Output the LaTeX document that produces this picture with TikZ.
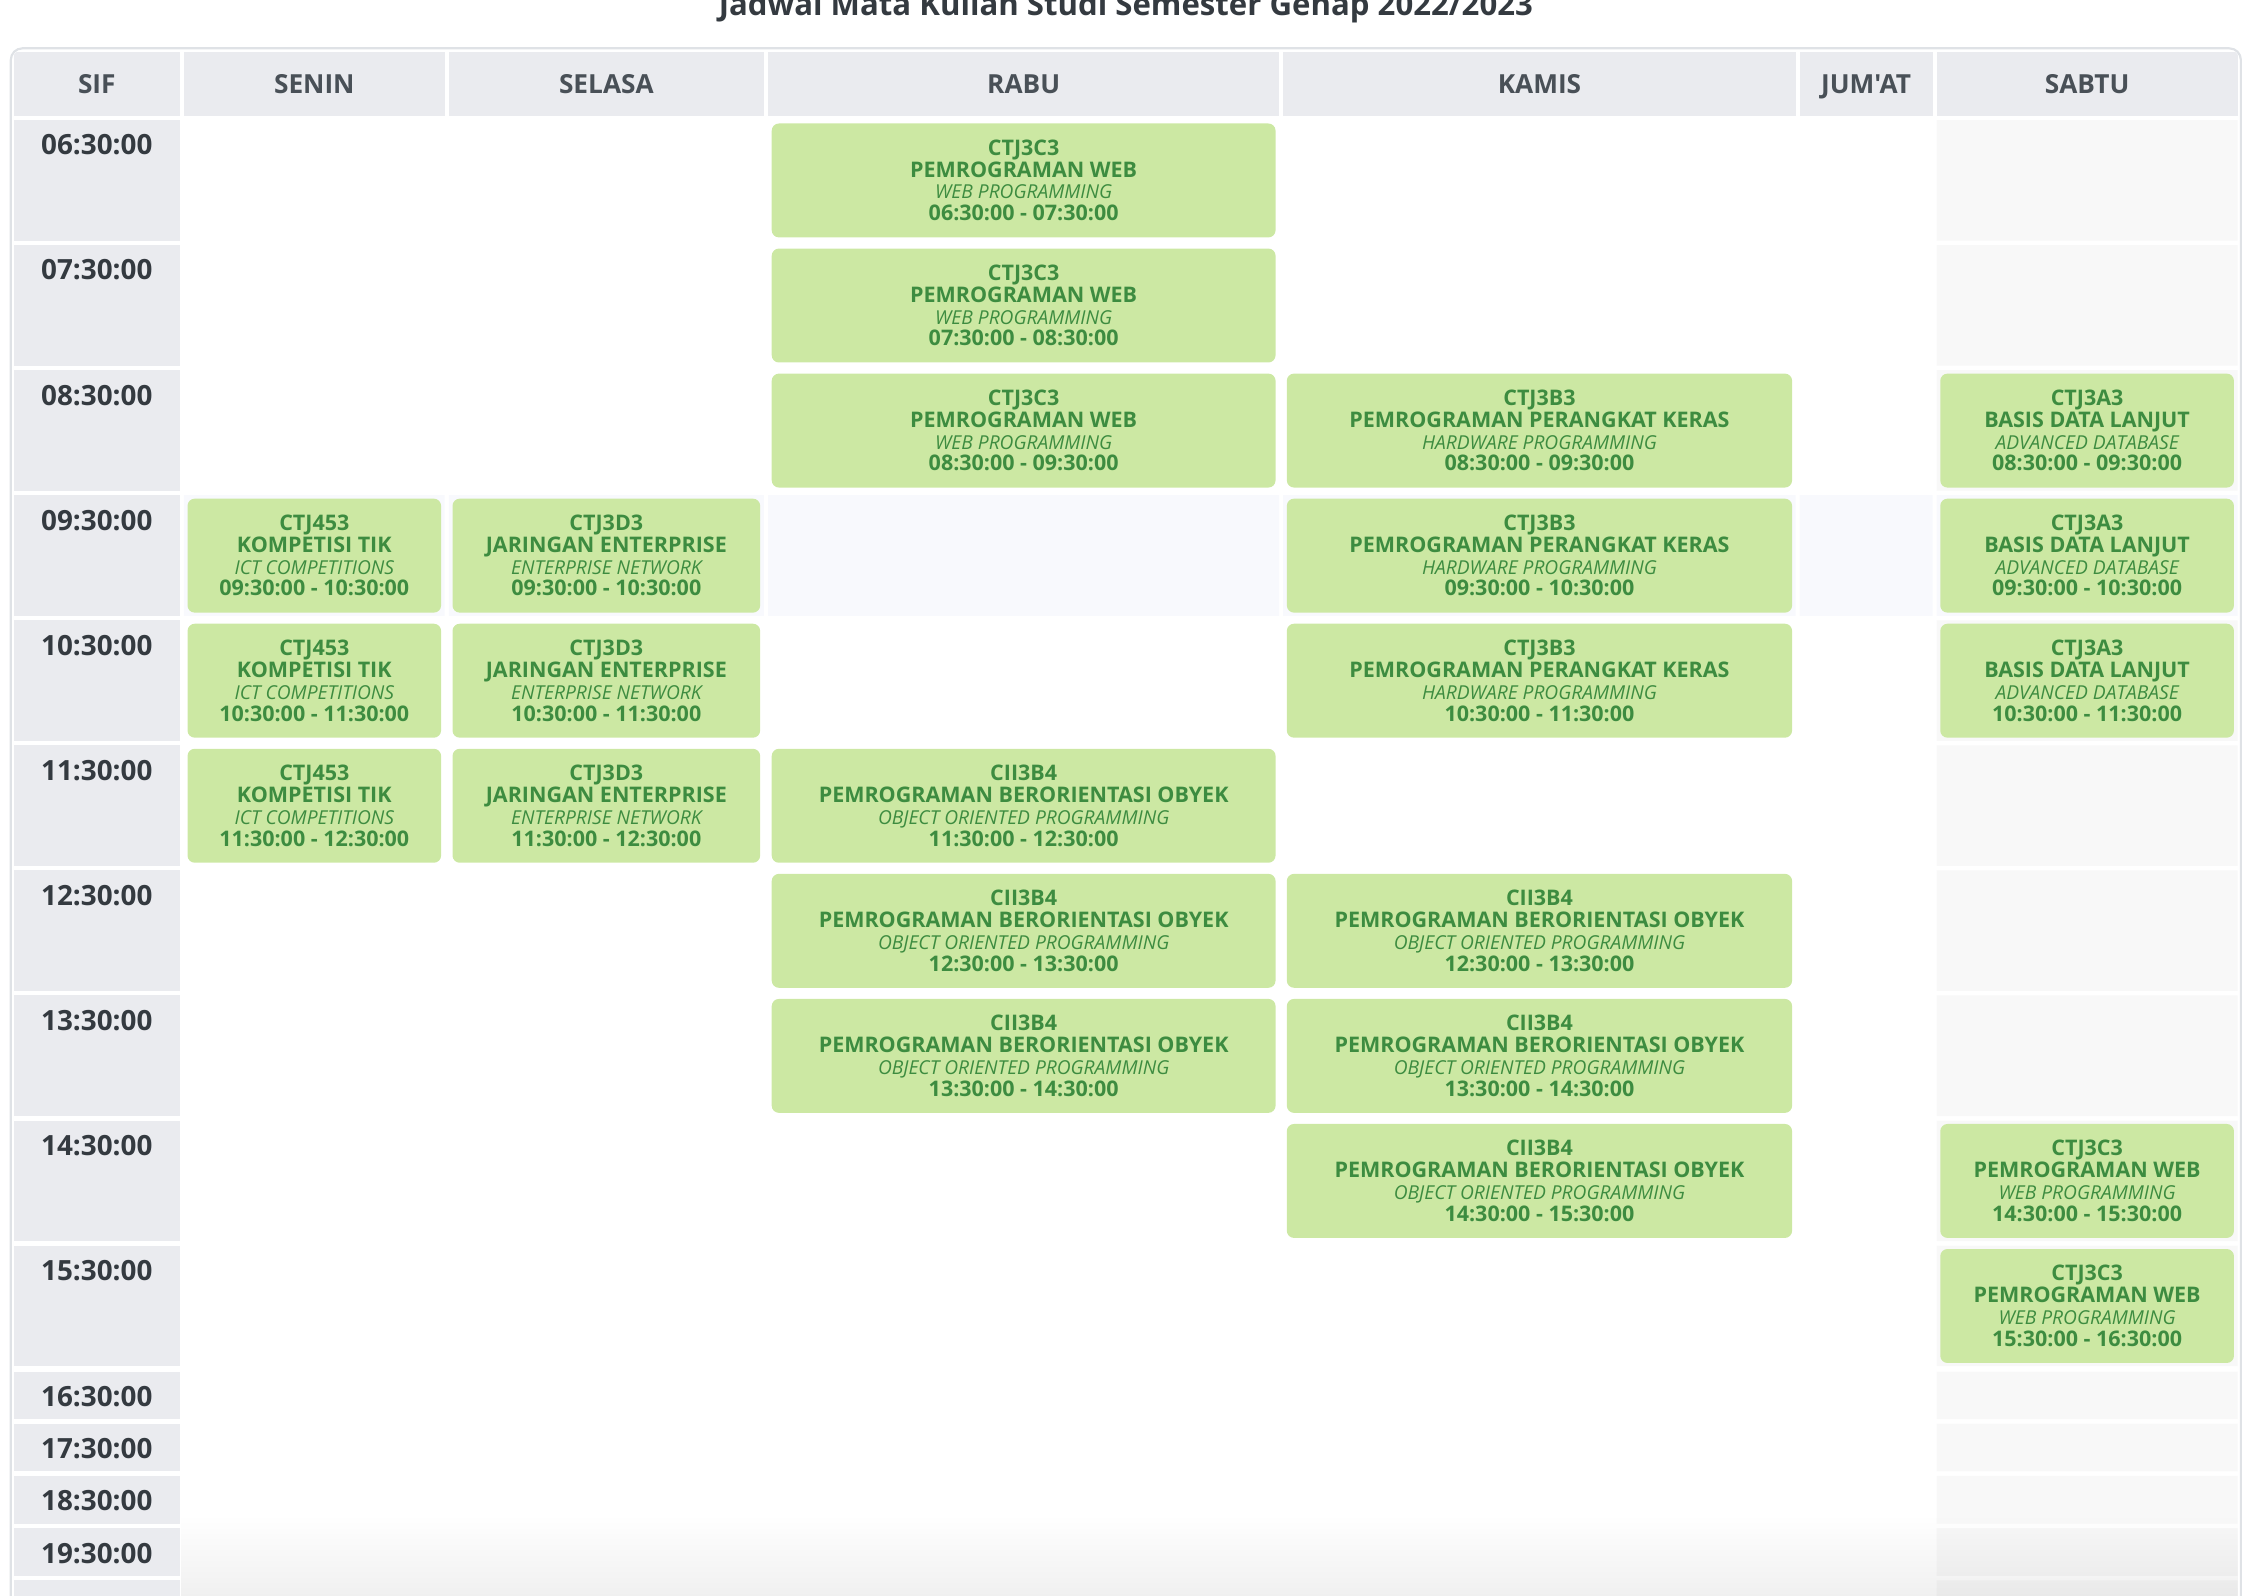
\documentclass[tikz,border=0pt]{standalone}
\usepackage{fontspec}
\setmainfont{Open Sans}[Ligatures=TeXOff]
\usetikzlibrary{fadings}

\definecolor{cellgray}{HTML}{EAEBEF}
\definecolor{headtext}{HTML}{495057}
\definecolor{timetext}{HTML}{343A40}
\definecolor{coursefill}{HTML}{CCE8A3}
\definecolor{coursetext}{HTML}{3D8C40}
\definecolor{hoverrow}{HTML}{F8F9FD}
\definecolor{stripecol}{HTML}{F8F8F8}
\definecolor{tableline}{HTML}{DFE2E6}

\tikzfading[name=fade up, top color=transparent!100, bottom color=transparent!0]

% code, name, english name, time
\newcommand{\course}[4]{#1\\#2\\{\fontsize{13.3}{15.1}\selectfont\mdseries\itshape #3}\\#4}

\tikzset{
  head/.style={fill=cellgray, text=headtext, font=\fontsize{18.2}{22}\selectfont\bfseries,
    minimum height=44.4, inner sep=0, text height=13, text depth=0},
  slot/.style={fill=cellgray, text=timetext, font=\fontsize{19.3}{24}\selectfont\bfseries,
    minimum width=115.2, inner sep=0, text height=24.2, text depth=59.4},
  shortslot/.style={slot, text depth=8.8},
  course/.style={fill=coursefill, text=coursetext, rounded corners=5, align=center,
    minimum height=79, inner sep=0, font=\fontsize{14.9}{15.1}\selectfont\bfseries}
}

\begin{document}
\begin{tikzpicture}[x=1pt, y=-1pt]
  \useasboundingbox (0,0) rectangle (1564,1106.4);
  \clip (0,0) rectangle (1564,1106.4);

  \node[text=timetext, font=\fontsize{21.6}{26}\selectfont\bfseries, anchor=base] (title) at (780.5,11)
    {Jadwal Mata Kuliah Studi Semester Genap 2022/2023};

  \begin{scope}
    \clip[rounded corners=8] (8.3,34.3) rectangle (1552.7,1140);

    % header row
    \node[head, minimum width=115.2] (sif)    at (67.1,58)    {SIF};
    \node[head, minimum width=180.8] (senin)  at (217.9,58)   {SENIN};
    \node[head, minimum width=218.3] (selasa) at (420.35,58)  {SELASA};
    \node[head, minimum width=354.3] (rabu)   at (709.65,58)  {RABU};
    \node[head, minimum width=355.3] (kamis)  at (1067.25,58) {KAMIS};
    \node[head, minimum width=92.2]  (jumat)  at (1293.7,58)  {JUM'AT};
    \node[head, minimum width=208.6] (sabtu)  at (1446.9,58)  {SABTU};

    % time column
    \node[slot] (t0630) at (67.1,125)   {06:30:00};
    \node[slot] (t0730) at (67.1,211.7) {07:30:00};
    \node[slot] (t0830) at (67.1,298.4) {08:30:00};
    \node[slot] (t0930) at (67.1,385.1) {09:30:00};
    \node[slot] (t1030) at (67.1,471.8) {10:30:00};
    \node[slot] (t1130) at (67.1,558.5) {11:30:00};
    \node[slot] (t1230) at (67.1,645.2) {12:30:00};
    \node[slot] (t1330) at (67.1,731.9) {13:30:00};
    \node[slot] (t1430) at (67.1,818.6) {14:30:00};
    \node[slot] (t1530) at (67.1,905.3) {15:30:00};
    \node[shortslot] (t1630) at (67.1,967.3)  {16:30:00};
    \node[shortslot] (t1730) at (67.1,1003.5) {17:30:00};
    \node[shortslot] (t1830) at (67.1,1039.7) {18:30:00};
    \node[shortslot] (t1930) at (67.1,1075.9) {19:30:00};
    \node[shortslot] (t2030) at (67.1,1112.1) {};

    % saturday column and the 09:30 row
    \fill[stripecol] (1342.6,83.2) rectangle +(208.6,83.6) (1342.6,169.9) rectangle +(208.6,83.6)
      (1342.6,256.6) rectangle +(208.6,83.6) (1342.6,430) rectangle +(208.6,83.6)
      (1342.6,516.7) rectangle +(208.6,83.6) (1342.6,603.4) rectangle +(208.6,83.6)
      (1342.6,690.1) rectangle +(208.6,83.6) (1342.6,776.8) rectangle +(208.6,83.6)
      (1342.6,863.5) rectangle +(208.6,83.6) (1342.6,950.8) rectangle +(208.6,33)
      (1342.6,987) rectangle +(208.6,33) (1342.6,1023.2) rectangle +(208.6,33)
      (1342.6,1059.4) rectangle +(208.6,33) (1342.6,1095.6) rectangle +(208.6,40);
    \fill[hoverrow] (127.5,343.3) rectangle +(180.8,83.6) (311.2,343.3) rectangle +(218.3,83.6)
      (532.5,343.3) rectangle +(354.3,83.6) (889.6,343.3) rectangle +(355.3,83.6)
      (1247.6,343.3) rectangle +(92.2,83.6) (1342.6,343.3) rectangle +(208.6,83.6);

    \begin{scope}[every node/.style={course, minimum width=175.8}]
      \node (sen1) at (217.9,385.2) {\course{CTJ453}{KOMPETISI TIK}{ICT COMPETITIONS}{09:30:00 - 10:30:00}};
      \node (sen2) at (217.9,471.9) {\course{CTJ453}{KOMPETISI TIK}{ICT COMPETITIONS}{10:30:00 - 11:30:00}};
      \node (sen3) at (217.9,558.6) {\course{CTJ453}{KOMPETISI TIK}{ICT COMPETITIONS}{11:30:00 - 12:30:00}};
    \end{scope}

    \begin{scope}[every node/.style={course, minimum width=213.3}]
      \node (sel1) at (420.35,385.2) {\course{CTJ3D3}{JARINGAN ENTERPRISE}{ENTERPRISE NETWORK}{09:30:00 - 10:30:00}};
      \node (sel2) at (420.35,471.9) {\course{CTJ3D3}{JARINGAN ENTERPRISE}{ENTERPRISE NETWORK}{10:30:00 - 11:30:00}};
      \node (sel3) at (420.35,558.6) {\course{CTJ3D3}{JARINGAN ENTERPRISE}{ENTERPRISE NETWORK}{11:30:00 - 12:30:00}};
    \end{scope}

    \begin{scope}[every node/.style={course, minimum width=349.3}]
      \node (rab1) at (709.65,125.1) {\course{CTJ3C3}{PEMROGRAMAN WEB}{WEB PROGRAMMING}{06:30:00 - 07:30:00}};
      \node (rab2) at (709.65,211.8) {\course{CTJ3C3}{PEMROGRAMAN WEB}{WEB PROGRAMMING}{07:30:00 - 08:30:00}};
      \node (rab3) at (709.65,298.5) {\course{CTJ3C3}{PEMROGRAMAN WEB}{WEB PROGRAMMING}{08:30:00 - 09:30:00}};
      \node (rab4) at (709.65,558.6) {\course{CII3B4}{PEMROGRAMAN BERORIENTASI OBYEK}{OBJECT ORIENTED PROGRAMMING}{11:30:00 - 12:30:00}};
      \node (rab5) at (709.65,645.3) {\course{CII3B4}{PEMROGRAMAN BERORIENTASI OBYEK}{OBJECT ORIENTED PROGRAMMING}{12:30:00 - 13:30:00}};
      \node (rab6) at (709.65,732)   {\course{CII3B4}{PEMROGRAMAN BERORIENTASI OBYEK}{OBJECT ORIENTED PROGRAMMING}{13:30:00 - 14:30:00}};
    \end{scope}

    \begin{scope}[every node/.style={course, minimum width=350.3}]
      \node (kam1) at (1067.25,298.5) {\course{CTJ3B3}{PEMROGRAMAN PERANGKAT KERAS}{HARDWARE PROGRAMMING}{08:30:00 - 09:30:00}};
      \node (kam2) at (1067.25,385.2) {\course{CTJ3B3}{PEMROGRAMAN PERANGKAT KERAS}{HARDWARE PROGRAMMING}{09:30:00 - 10:30:00}};
      \node (kam3) at (1067.25,471.9) {\course{CTJ3B3}{PEMROGRAMAN PERANGKAT KERAS}{HARDWARE PROGRAMMING}{10:30:00 - 11:30:00}};
      \node (kam4) at (1067.25,645.3) {\course{CII3B4}{PEMROGRAMAN BERORIENTASI OBYEK}{OBJECT ORIENTED PROGRAMMING}{12:30:00 - 13:30:00}};
      \node (kam5) at (1067.25,732)   {\course{CII3B4}{PEMROGRAMAN BERORIENTASI OBYEK}{OBJECT ORIENTED PROGRAMMING}{13:30:00 - 14:30:00}};
      \node (kam6) at (1067.25,818.7) {\course{CII3B4}{PEMROGRAMAN BERORIENTASI OBYEK}{OBJECT ORIENTED PROGRAMMING}{14:30:00 - 15:30:00}};
    \end{scope}

    \begin{scope}[every node/.style={course, minimum width=203.6}]
      \node (sab1) at (1446.9,298.5) {\course{CTJ3A3}{BASIS DATA LANJUT}{ADVANCED DATABASE}{08:30:00 - 09:30:00}};
      \node (sab2) at (1446.9,385.2) {\course{CTJ3A3}{BASIS DATA LANJUT}{ADVANCED DATABASE}{09:30:00 - 10:30:00}};
      \node (sab3) at (1446.9,471.9) {\course{CTJ3A3}{BASIS DATA LANJUT}{ADVANCED DATABASE}{10:30:00 - 11:30:00}};
      \node (sab4) at (1446.9,818.7) {\course{CTJ3C3}{PEMROGRAMAN WEB}{WEB PROGRAMMING}{14:30:00 - 15:30:00}};
      \node (sab5) at (1446.9,905.4) {\course{CTJ3C3}{PEMROGRAMAN WEB}{WEB PROGRAMMING}{15:30:00 - 16:30:00}};
    \end{scope}

    % shadow at the lower edge
    \fill[black, opacity=0.06, path fading=fade up] (126,1050) rectangle (1553,1106.4);
  \end{scope}

  \draw[tableline, line width=1.5, rounded corners=8] (7.5,33.5) rectangle (1553.5,1140);
\end{tikzpicture}
\end{document}
